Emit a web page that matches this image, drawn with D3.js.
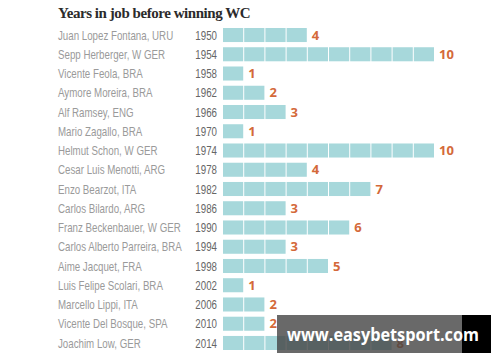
<!DOCTYPE html>
<html>
<head>
<meta charset="utf-8">
<script src="https://cdn.jsdelivr.net/npm/d3@7"></script>
<style>
  body { margin: 0; background: #fff; }
  svg { display: block; }
</style>
</head>
<body>
<div id="chart"></div>
<script>
const coaches = [
  "Juan Lopez Fontana, URU", "Sepp Herberger, W GER", "Vicente Feola, BRA",
  "Aymore Moreira, BRA", "Alf Ramsey, ENG", "Mario Zagallo, BRA",
  "Helmut Schon, W GER", "Cesar Luis Menotti, ARG", "Enzo Bearzot, ITA",
  "Carlos Bilardo, ARG", "Franz Beckenbauer, W GER", "Carlos Alberto Parreira, BRA",
  "Aime Jacquet, FRA", "Luis Felipe Scolari, BRA", "Marcello Lippi, ITA",
  "Vicente Del Bosque, SPA", "Joachim Low, GER"
];
const years = ["1950", "1954", "1958", "1962", "1966", "1970", "1974", "1978", "1982",
  "1986", "1990", "1994", "1998", "2002", "2006", "2010", "2014"];
const yearsInJob = [4, 10, 1, 2, 3, 1, 10, 4, 7, 3, 6, 3, 5, 1, 2, 2, 8];

const width = 500, height = 362;
const svg = d3.select("#chart").append("svg")
  .attr("width", width)
  .attr("height", height);

const x = d3.scaleLinear().domain([0, 10]).range([223, 435]);
const y = d3.scaleBand().domain(years).range([22.8, 355.2]).padding(0.27);

svg.append("text")
  .attr("x", 58)
  .attr("y", 18)
  .style("font", "bold 15px 'Liberation Serif', serif")
  .style("letter-spacing", "-0.45px")
  .style("fill", "#2b2b2b")
  .text("Years in job before winning WC");

const rows = svg.selectAll(".row")
  .data(years.map((yr, i) => ({ year: yr, name: coaches[i], value: yearsInJob[i] })))
  .enter().append("g")
  .attr("class", "row")
  .attr("transform", d => `translate(0,${y(d.year)})`);

const mid = y.bandwidth() / 2;
const labelFont = "13px 'Liberation Sans', Arial, sans-serif";

// the original uses a condensed face: squeeze a normal one horizontally
const names = rows.append("text")
  .attr("y", mid)
  .attr("dy", "0.35em")
  .style("font", labelFont)
  .style("fill", "#9a9a9a")
  .text(d => d.name);

let longest = 0;
names.each(function () { longest = Math.max(longest, this.getComputedTextLength()); });
const squeeze = 124 / longest;
names.attr("transform", `translate(58,0) scale(${squeeze},1)`);

rows.append("text")
  .attr("y", mid)
  .attr("dy", "0.35em")
  .attr("text-anchor", "end")
  .attr("transform", `translate(217,0) scale(${squeeze},1)`)
  .style("font", labelFont)
  .style("fill", "#666")
  .text(d => d.year);

// one block per year in the job
rows.each(function (d) {
  d3.select(this).selectAll("rect")
    .data(d3.range(d.value))
    .enter().append("rect")
    .attr("x", k => x(k))
    .attr("y", 0)
    .attr("width", x(1) - x(0) - 1)
    .attr("height", y.bandwidth())
    .style("fill", "#a7d8db");
});

rows.append("text")
  .attr("x", d => x(d.value) + 4)
  .attr("y", mid)
  .attr("dy", "0.36em")
  .style("font", "bold 13px 'Open Sans', sans-serif")
  .style("fill", "#d4693a")
  .text(d => d.value);

// watermark
const wm = svg.append("g");
wm.append("rect")
  .attr("x", 277).attr("y", 315)
  .attr("width", 185).attr("height", 38)
  .style("fill", "#444").style("opacity", 0.8);
wm.append("rect")
  .attr("x", 462).attr("y", 315)
  .attr("width", 29).attr("height", 38)
  .style("fill", "#000");
wm.append("text")
  .attr("x", 287).attr("y", 341)
  .attr("textLength", 192)
  .attr("lengthAdjust", "spacingAndGlyphs")
  .style("font", "bold 18px 'Open Sans', sans-serif")
  .style("fill", "#fff")
  .text("www.easybetsport.com");
</script>
</body>
</html>
